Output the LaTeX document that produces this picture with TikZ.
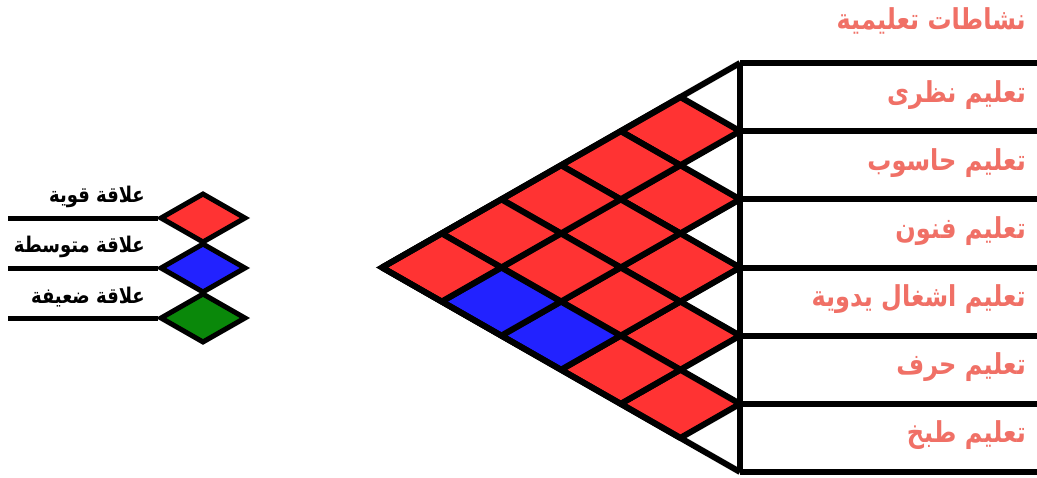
\documentclass[tikz,border=0pt]{standalone}
\usepackage{fontspec}
\usepackage{graphicx}
\usetikzlibrary{shapes.geometric}
\TeXXeTstate=1
\newfontfamily\arabicfont[Script=Arabic]{DejaVu Sans}
\newcommand{\artext}[1]{\scalebox{1}[1.2]{\beginR #1\endR}}
\definecolor{cellred}{RGB}{255,51,51}
\definecolor{cellblue}{RGB}{34,34,255}
\definecolor{cellgreen}{RGB}{10,136,10}
\definecolor{salmon}{RGB}{240,112,102}
\tikzset{
  gridline/.style={draw=black, line width=6pt, line join=bevel},
  frameline/.style={draw=black, line width=6pt, line join=miter},
  rowlabel/.style={anchor=east, inner sep=0pt, text=salmon, font=\arabicfont\bfseries\fontsize{24}{28}\selectfont},
  leglabel/.style={anchor=east, inner sep=0pt, text=black, font=\arabicfont\bfseries\fontsize{18}{22}\selectfont},
  legdiamond/.style={diamond, draw=black, line width=5pt, inner sep=0pt, minimum width=86pt, minimum height=50pt},
  legline/.style={draw=black, line width=5pt}
}
\begin{document}
\begin{tikzpicture}[x=1pt,y=-1pt]
\useasboundingbox (0,0) rectangle (1037,477);
\fill[white] (0,0) rectangle (1037,477);

% roof cells
\foreach \c/\m/\col in {1/1/cellred,1/2/cellred,1/3/cellred,1/4/cellred,1/5/cellred,
  2/1/cellred,2/2/cellred,2/3/cellred,2/4/cellred,
  3/1/cellred,3/2/cellred,3/3/cellblue,
  4/1/cellred,4/2/cellblue,
  5/1/cellred}{
  \pgfmathsetmacro{\cx}{740-\c*59.667}
  \pgfmathsetmacro{\cy}{63+34.083*(\c+2*\m-1)}
  \filldraw[gridline, fill=\col] (\cx-59.667,\cy) -- (\cx,\cy-34.083) -- (\cx+59.667,\cy) -- (\cx,\cy+34.083) -- cycle;
}

% outer frame
\coordinate (top) at (740,63);
\coordinate (apex) at (382,267.5);
\coordinate (bot) at (740,472);
\draw[frameline] (top) -- (apex) -- (bot);
\draw[frameline] (top) -- (bot);
\foreach \k in {0,...,6}{
  \draw[frameline] (740,63+68.167*\k) -- (1045,63+68.167*\k);
}

% labels
\node[rowlabel] (title) at (1026,21) {\artext{نشاطات تعليمية}};
\node[rowlabel] (r1) at (1026,95) {\artext{تعليم نظرى}};
\node[rowlabel] (r2) at (1026,163) {\artext{تعليم حاسوب}};
\node[rowlabel] (r3) at (1026,231) {\artext{تعليم فنون}};
\node[rowlabel] (r4) at (1026,299) {\artext{تعليم اشغال يدوية}};
\node[rowlabel] (r5) at (1026,367) {\artext{تعليم حرف}};
\node[rowlabel] (r6) at (1026,435) {\artext{تعليم طبخ}};

% legend
\node[legdiamond, fill=cellred] (d1) at (203,218) {};
\node[legdiamond, fill=cellblue] (d2) at (203,268) {};
\node[legdiamond, fill=cellgreen] (d3) at (203,318) {};
\coordinate (s1) at (8,218);
\coordinate (s2) at (8,268);
\coordinate (s3) at (8,318);
\draw[legline] (s1) -- (d1.west);
\draw[legline] (s2) -- (d2.west);
\draw[legline] (s3) -- (d3.west);
\node[leglabel] (l1) at (145,197) {\artext{علاقة قوية}};
\node[leglabel] (l2) at (145,247) {\artext{علاقة متوسطة}};
\node[leglabel] (l3) at (145,297) {\artext{علاقة ضعيفة}};
\end{tikzpicture}
\end{document}
